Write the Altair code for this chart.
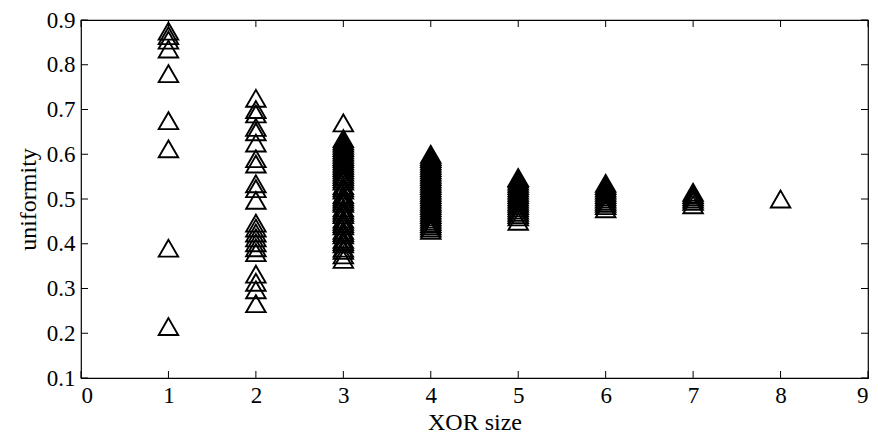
import altair as alt
import pandas as pd

# XOR size columns and uniformity values
col1 = [0.875, 0.865, 0.855, 0.835, 0.78, 0.675, 0.612, 0.39, 0.215]
col2 = [0.725, 0.70, 0.69, 0.66, 0.65, 0.625, 0.59, 0.578, 0.534, 0.523, 0.497,
        0.446, 0.435, 0.424, 0.413, 0.402, 0.391, 0.38, 0.332, 0.314, 0.297, 0.266]
col3 = [0.67, 0.635, 0.63, 0.625, 0.62, 0.615, 0.61, 0.605, 0.60, 0.595, 0.59, 0.585,
        0.58, 0.575, 0.57, 0.565, 0.56, 0.555, 0.55, 0.545, 0.54, 0.53, 0.525, 0.52,
        0.51, 0.505, 0.50, 0.495, 0.49, 0.48, 0.475, 0.47, 0.465, 0.455, 0.45, 0.445,
        0.44, 0.43, 0.425, 0.42, 0.41, 0.405, 0.40, 0.39, 0.385, 0.375, 0.365]
col4 = [0.60, 0.595, 0.59, 0.585, 0.58, 0.575, 0.57, 0.565, 0.56, 0.555, 0.55, 0.545,
        0.54, 0.535, 0.53, 0.525, 0.52, 0.515, 0.51, 0.505, 0.50, 0.495, 0.49, 0.485,
        0.48, 0.475, 0.47, 0.465, 0.46, 0.455, 0.45, 0.445, 0.44, 0.435, 0.43]
col5 = [0.548, 0.545, 0.54, 0.535, 0.53, 0.525, 0.52, 0.515, 0.51, 0.505, 0.50, 0.495,
        0.49, 0.485, 0.48, 0.475, 0.47, 0.465, 0.46, 0.45]
col6 = [0.535, 0.53, 0.525, 0.52, 0.515, 0.51, 0.505, 0.50, 0.495, 0.49, 0.485, 0.478]
col7 = [0.515, 0.51, 0.505, 0.50, 0.495, 0.487]
col8 = [0.50]

columns = [col1, col2, col3, col4, col5, col6, col7, col8]
x_ticks = [0, 1, 2, 3, 4, 5, 6, 7, 8, 9]
y_ticks = [0.1, 0.2, 0.3, 0.4, 0.5, 0.6, 0.7, 0.8, 0.9]

rows = []
for i, col in enumerate(columns, start=1):
    for v in col:
        rows.append({"xor": i, "uniformity": v})
df = pd.DataFrame(rows)

W, H = 787, 358
FONT = "Liberation Serif"
TL = 7

xscale = alt.Scale(domain=[0, 9], nice=False, zero=False)
yscale = alt.Scale(domain=[0.1, 0.9], nice=False, zero=False)

points = alt.Chart(df).mark_point(
    shape="triangle-up", filled=False, color="black", size=380, strokeWidth=1.9, opacity=1
).encode(
    x=alt.X("xor:Q", scale=xscale, title="XOR size",
            axis=alt.Axis(values=x_ticks, ticks=False, domain=False, grid=False,
                          labelPadding=6, titlePadding=3, format="d")),
    y=alt.Y("uniformity:Q", scale=yscale, title="uniformity",
            axis=alt.Axis(values=y_ticks, ticks=False, domain=False, grid=False,
                          labelPadding=6, titlePadding=6, format=".1f")),
)

xt = pd.DataFrame({"t": x_ticks})
yt = pd.DataFrame({"t": y_ticks})

xb = alt.Chart(xt).mark_rule(color="black", strokeWidth=1).encode(
    x=alt.X("t:Q", scale=xscale), y=alt.value(H), y2=alt.value(H - TL))
xtop = alt.Chart(xt).mark_rule(color="black", strokeWidth=1).encode(
    x=alt.X("t:Q", scale=xscale), y=alt.value(0), y2=alt.value(TL))
yl = alt.Chart(yt).mark_rule(color="black", strokeWidth=1).encode(
    y=alt.Y("t:Q", scale=yscale), x=alt.value(0), x2=alt.value(TL))
yr = alt.Chart(yt).mark_rule(color="black", strokeWidth=1).encode(
    y=alt.Y("t:Q", scale=yscale), x=alt.value(W - TL), x2=alt.value(W))

chart = alt.layer(points, xb, xtop, yl, yr).properties(
    width=W, height=H,
    autosize=alt.AutoSizeParams(type="none"),
    padding={"left": 73, "top": 12, "right": 2, "bottom": 55},
    background="white",
).configure_view(
    stroke="black", strokeWidth=1.2
).configure_axis(
    labelFont=FONT, titleFont=FONT, labelFontSize=23, titleFontSize=24,
    labelColor="black", titleColor="black", titleFontWeight="normal"
)

chart.save("out.html", embed_options={"renderer": "svg", "actions": False})
